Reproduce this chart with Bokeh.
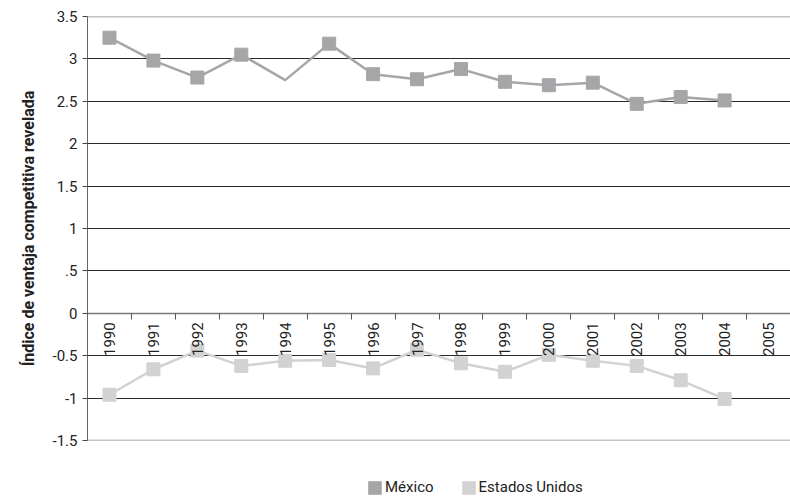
import math
from bokeh.plotting import figure
from bokeh.layouts import column
from bokeh.models import FixedTicker, Span, Legend, LegendItem, LinearAxis, Range1d
from bokeh.embed import file_html
from bokeh.resources import INLINE

years = list(range(1990, 2006))
mex_years = list(range(1990, 2005))
mexico = [3.25, 2.98, 2.78, 3.05, 2.75, 3.18, 2.82, 2.76, 2.88, 2.73, 2.69, 2.72, 2.47, 2.55, 2.51]
mexico_no_marker = [1994]
us_years = list(range(1990, 2005))
usa = [-0.96, -0.66, -0.44, -0.62, -0.56, -0.55, -0.65, -0.43, -0.59, -0.69, -0.49, -0.56, -0.62, -0.79, -1.01]
ytick_vals = [-1.5, -1, -0.5, 0, 0.5, 1, 1.5, 2, 2.5, 3, 3.5]
ytick_labels = ["-1.5", "-1", "-0.5", "0", ".5", "1", "1.5", "2", "2.5", "3", "3.5"]
series_names = ["México", "Estados Unidos"]

FONT = "Roboto"
MEX_C = "#a6a6a9"
US_C = "#d2d2d3"

p = figure(width=790, height=458, output_backend="svg", toolbar_location=None,
           x_range=Range1d(1989.5, 2005.5), y_range=Range1d(-1.5, 3.5),
           x_axis_location=None, min_border_top=16, min_border_right=0,
           min_border_left=87, min_border_bottom=18)
p.outline_line_color = None
p.background_fill_color = "white"

# y axis
yax = p.yaxis[0]
yax.ticker = FixedTicker(ticks=ytick_vals)
yax.major_label_overrides = {v: l for v, l in zip(ytick_vals, ytick_labels)}
yax.axis_label = "Índice de ventaja competitiva revelada"
yax.axis_label_text_font = FONT
yax.axis_label_text_font_style = "bold"
yax.axis_label_text_font_size = "16px"
yax.axis_label_text_color = "#222222"
yax.axis_label_standoff = 12
yax.major_label_text_font = FONT
yax.major_label_text_font_size = "15px"
yax.major_label_text_color = "#222222"
yax.major_tick_out = 5
yax.major_tick_in = 0
yax.minor_tick_out = 0
yax.minor_tick_in = 0
yax.axis_line_color = "#666666"
yax.major_tick_line_color = "#444444"

# grid
p.xgrid.visible = False
p.ygrid.ticker = FixedTicker(ticks=[v for v in ytick_vals if v not in (-1.5, 0, 3.5)])
p.ygrid.grid_line_color = "#2a2a2a"
p.ygrid.grid_line_width = 1
for v in (3.5, -1.5):
    p.add_layout(Span(location=v, dimension="width", line_color="#8a8a8a", line_width=1.5))

# x axis at zero
xax = LinearAxis(fixed_location=0)
xax.ticker = FixedTicker(ticks=years, minor_ticks=[y + 0.5 for y in years])
xax.major_label_overrides = {y: str(y) for y in years}
xax.major_label_orientation = math.pi / 2
xax.major_label_text_font = FONT
xax.major_label_text_font_size = "15px"
xax.major_label_text_color = "#222222"
xax.major_label_standoff = 3
xax.major_tick_out = 0
xax.major_tick_in = 0
xax.minor_tick_out = 6
xax.minor_tick_in = 0
xax.axis_line_color = "#777777"
xax.axis_line_width = 1.5
xax.minor_tick_line_color = "#555555"
p.add_layout(xax, "below")

# series
p.line(mex_years, mexico, line_color=MEX_C, line_width=2.5)
mx = [y for y in mex_years if y not in mexico_no_marker]
my = [v for y, v in zip(mex_years, mexico) if y not in mexico_no_marker]
p.scatter(mx, my, marker="square", size=13, fill_color=MEX_C, line_color=MEX_C)
p.line(us_years, usa, line_color=US_C, line_width=2.5)
p.scatter(us_years, usa, marker="square", size=13, fill_color=US_C, line_color=US_C)

# legend figure (hidden swatch renderers carry the series data)
lf = figure(width=790, height=39, output_backend="svg", toolbar_location=None,
            x_axis_location=None, y_axis_location=None,
            min_border=0, x_range=Range1d(1989.5, 2005.5), y_range=Range1d(-1.5, 3.5))
lf.outline_line_color = None
lf.grid.visible = False
r_m = lf.quad(left=mex_years, right=mex_years, top=mexico, bottom=mexico,
              fill_color=MEX_C, line_color=None, visible=False)
r_u = lf.quad(left=us_years, right=us_years, top=usa, bottom=usa,
              fill_color=US_C, line_color=None, visible=False)
legend = Legend(items=[LegendItem(label=series_names[0], renderers=[r_m]),
                       LegendItem(label=series_names[1], renderers=[r_u])],
                orientation="horizontal", location=(279, 1),
                label_text_font=FONT, label_text_font_size="15px", label_text_color="#222222",
                glyph_width=17, glyph_height=17, label_standoff=2, spacing=26,
                inactive_fill_alpha=0,
                border_line_color=None, background_fill_alpha=0, padding=2, margin=0)
lf.add_layout(legend, "center")

open("out.html", "w").write(file_html(column(p, lf, spacing=0), INLINE))
